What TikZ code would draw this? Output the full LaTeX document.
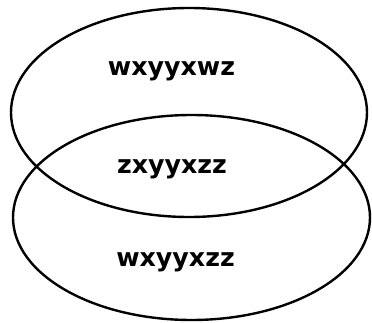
\documentclass[tikz,border=0pt]{standalone}
\usepackage{fontspec}
\setmainfont{DejaVu Sans}
\begin{document}
\begin{tikzpicture}[x=1pt,y=-1pt,
  setline/.style={line width=2.4pt,black},
  lbl/.style={font=\bfseries\fontsize{25.3}{30}\selectfont, anchor=base, inner sep=0pt}]
\useasboundingbox (0,0) rectangle (372,323);
\node[draw=none] (topset) at (189,112.5) {};
\node[draw=none] (botset) at (191.5,217.5) {};
\draw[setline] (topset.center) ellipse [x radius=178, y radius=104.5];
\draw[setline] (botset.center) ellipse [x radius=178.5, y radius=102.5];
\node[lbl] (ta) at (171.5,76) {wxyyxwz};
\node[lbl] (tb) at (172,174) {zxyyxzz};
\node[lbl] (tc) at (175.5,266) {wxyyxzz};
\end{tikzpicture}
\end{document}
